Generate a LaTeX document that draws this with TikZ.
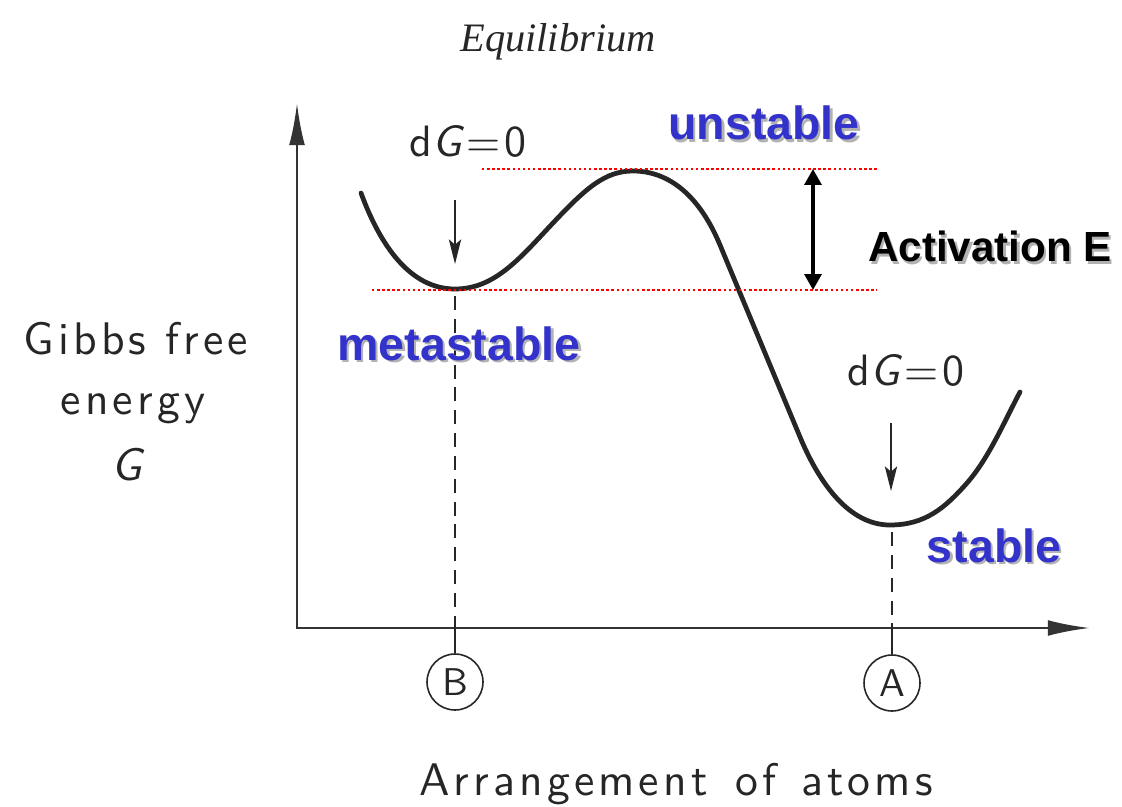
\documentclass[tikz,border=0pt]{standalone}
\usepackage{fontspec}
\usepackage{xcolor}
\usepackage{tikz}
\usetikzlibrary{arrows.meta,positioning}
\newfontfamily\boldsans{Liberation Sans}
\newfontfamily\bookserif{Liberation Serif}
\newfontfamily\draftfont{lmsans10-regular}[Extension=.otf,ItalicFont=lmsans10-oblique,LetterSpace=9]
\definecolor{stateblue}{RGB}{51,51,204}
\newcommand{\shadowed}[1]{\makebox[0pt][l]{\hspace{1.3pt}\raisebox{-1.3pt}{\color{black!30}#1}}#1}

\begin{document}
\begin{tikzpicture}[x=0.02cm,y=-0.02cm,
  curve/.style={line width=2.7pt,black!85,line cap=round},
  axis/.style={line width=1.5pt,black!80,line join=miter,{Latex[length=24pt,width=9pt]}-{Latex[length=24pt,width=9pt]}},
  level/.style={red,line width=1.4pt,dash pattern=on 1.4pt off 1.5pt},
  guide/.style={line width=1pt,black!85,dash pattern=on 8pt off 5pt},
  tick/.style={line width=1pt,black!85},
  marker/.style={line width=1pt,black!85,-{Stealth[length=14pt,width=7pt,inset=3pt]}},
  barrier/.style={line width=2pt,{Triangle[length=9pt,width=9.5pt]}-{Triangle[length=9pt,width=9.5pt]}},
  state/.style={font=\boldsans\bfseries\fontsize{26.5}{30}\selectfont,text=stateblue,anchor=base},
  draft/.style={font=\draftfont\fontsize{26}{30}\selectfont,text=black!85,anchor=base},
  point/.style={circle,draw=black!85,line width=0.9pt,minimum size=1.12cm,inner sep=0pt,
    font=\draftfont\fontsize{22}{24}\selectfont,text=black!85}
]
\useasboundingbox (0,0) rectangle (1122,807);
%--- title ---
\node[font=\bookserif\itshape\fontsize{23}{26}\selectfont,text=black!85,anchor=base] (title) at (558,52) {Equilibrium};
%--- axes ---
\coordinate (origin) at (297,628);
\coordinate (ytip) at (297,103);
\coordinate (xtip) at (1090,628);
\draw[axis] (ytip) -- (origin) -- (xtip);
\node[draft] (ylabA) at (136,355) {Gibbs free};
\node[draft] (ylabB) at (133,415) {energy};
\node[draft] (ylabC) at (127,480) {\itshape G};
\node[draft] (xlab) at (676,795) {Arrangement\hspace{16pt}of\hspace{14pt}atoms};
%--- energy curve ---
\draw[curve] (361,193) .. controls (380,245) and (410,289) .. (455,289)
  .. controls (495,289) and (520,258) .. (553,223)
  .. controls (586,188) and (605,171) .. (633,171)
  .. controls (670,171) and (700,197) .. (720,245)
  -- (800,437)
  .. controls (820,485) and (850,525) .. (890,525)
  .. controls (925,525) and (945,508) .. (967,483)
  .. controls (989,458) and (1005,420) .. (1020,392);
%--- positions B and A ---
\node[point] (ptB) at (455,682) {B};
\node[point] (ptA) at (892,683) {A};
\coordinate (tickB) at (455,628);
\coordinate (tickA) at (892,628);
\coordinate (minB) at (455,296);
\coordinate (minA) at (892,532);
\draw[tick] (tickB) -- (ptB);
\draw[tick] (tickA) -- (ptA);
\draw[guide] (minB) -- (tickB);
\draw[guide] (minA) -- (tickA);
%--- dG = 0 markers ---
\node[draft,font=\draftfont\fontsize{25}{30}\selectfont] (dGB) at (468,157) {d{\itshape G}\hspace{2.5pt}=0};
\node[draft,font=\draftfont\fontsize{25}{30}\selectfont] (dGA) at (906,385) {d{\itshape G}\hspace{2.5pt}=0};
\coordinate (arrB) at (455,200);
\coordinate (arrBend) at (455,264);
\coordinate (arrA) at (891,423);
\coordinate (arrAend) at (891,491);
\draw[marker] (arrB) -- (arrBend);
\draw[marker] (arrA) -- (arrAend);
%--- activation barrier ---
\coordinate (topL) at (482,169);
\coordinate (topR) at (877,169);
\coordinate (botL) at (372,290);
\coordinate (botR) at (877,290);
\draw[level] (topL) -- (topR);
\draw[level] (botL) -- (botR);
\coordinate (actT) at (813,169);
\coordinate (actB) at (813,290);
\draw[barrier] (actT) -- (actB);
\node[font=\boldsans\bfseries\fontsize{24}{28}\selectfont,anchor=base] (actE) at (990,262) {\shadowed{Activation E}};
%--- state labels ---
\node[state] (unst) at (764,140) {\shadowed{unstable}};
\node[state] (meta) at (459,360) {\shadowed{metastable}};
\node[state] (stab) at (994,562) {\shadowed{stable}};
\end{tikzpicture}
\end{document}
